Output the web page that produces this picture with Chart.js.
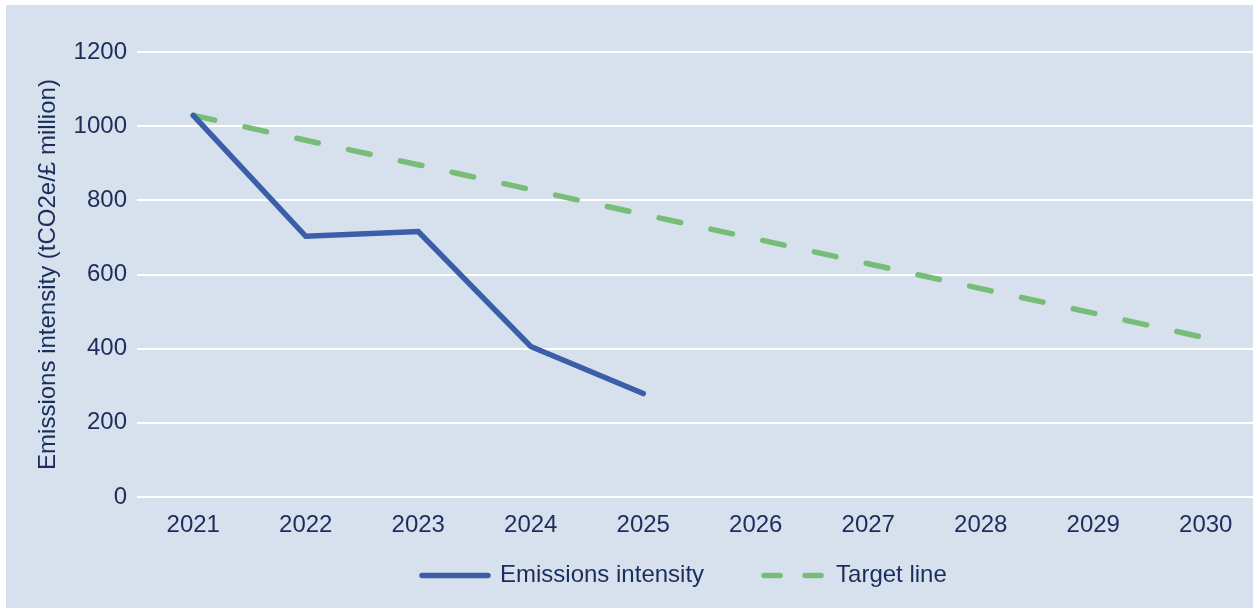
<!DOCTYPE html>
<html>
<head>
<meta charset="utf-8">
<script src="https://cdn.jsdelivr.net/npm/chart.js@4"></script>
<style>
  html, body { margin: 0; padding: 0; background: #ffffff; overflow: hidden; width: 1253px; height: 608px; }
  #wrap { position: absolute; left: 0; top: 0; width: 1262px; height: 608px; }
</style>
</head>
<body>
<div id="wrap"><canvas id="c" width="1262" height="608"></canvas></div>
<script>
const years = ['2021', '2022', '2023', '2024', '2025', '2026', '2027', '2028', '2029', '2030'];
const emissionsIntensity = [1029, 703, 716, 406, 279, null, null, null, null, null];
const targetLine = [1029, 962, 896, 829, 762, 696, 629, 562, 496, 429];
const yTicks = [0, 200, 400, 600, 800, 1000, 1200];
const seriesNames = ['Emissions intensity', 'Target line'];
const yTitle = 'Emissions intensity (tCO2e/£ million)';

const TEXT = '#1b2d5c';
const BLUE = '#3b5ea8';
const GREEN = '#77bd77';
const BG = '#d7e0ed';

Chart.defaults.font.family = '"Liberation Sans", Arial, Helvetica, sans-serif';

const bgPlugin = {
  id: 'bg',
  beforeDraw(chart) {
    const ctx = chart.ctx;
    ctx.save();
    ctx.fillStyle = BG;
    ctx.fillRect(6, 5, chart.width - 6, chart.height - 5);
    ctx.restore();
  }
};

// place the legend row: first mark starts at x=422, text centred near y=575
const legendPlace = {
  id: 'legendPlace',
  afterLayout(chart) {
    const lg = chart.legend;
    if (!lg || !lg.lineWidths) return;
    const pad = lg.options.labels.padding;
    const startX = (lg.left + pad + lg.right - lg.lineWidths[0]) / 2;
    const dx = 422 - startX;
    lg.left += dx; lg.right += dx;
    const ih = lg._itemHeight || 29;
    lg.top = 578 - pad - ih / 2;
    lg.bottom = lg.top + pad + ih + 20;
  }
};

new Chart(document.getElementById('c'), {
  type: 'line',
  data: {
    labels: years,
    datasets: [
      {
        label: seriesNames[0],
        data: emissionsIntensity,
        borderColor: BLUE,
        backgroundColor: BLUE,
        borderWidth: 5.5,
        borderCapStyle: 'round',
        borderJoinStyle: 'miter',
        pointRadius: 0,
        tension: 0,
        spanGaps: false,
        fill: false
      },
      {
        label: seriesNames[1],
        data: targetLine,
        borderColor: GREEN,
        backgroundColor: GREEN,
        borderWidth: 5.5,
        borderDash: [22, 31],
        borderCapStyle: 'round',
        pointRadius: 0,
        tension: 0,
        fill: false
      }
    ]
  },
  options: {
    responsive: false,
    animation: false,
    devicePixelRatio: 1,
    layout: { padding: { top: 52, right: 0, bottom: 16, left: 0 } },
    scales: {
      x: {
        offset: true,
        grid: { display: false, drawTicks: false },
        border: { display: false },
        ticks: { color: TEXT, font: { size: 24 }, padding: 14, maxRotation: 0, autoSkip: false },
        afterFit(s) { s.height = 55; }
      },
      y: {
        min: 0,
        max: 1200,
        afterBuildTicks(s) { s.ticks = yTicks.map(v => ({ value: v })); },
        grid: { color: '#ffffff', lineWidth: 2, drawTicks: false },
        border: { display: false },
        ticks: { color: TEXT, font: { size: 24 }, padding: 10, callback: v => String(v) },
        title: {
          display: true,
          text: yTitle,
          color: TEXT,
          font: { size: 24 },
          padding: { top: 33.6, bottom: 0 }
        },
        afterFit(s) { s.width = 137; }
      }
    },
    plugins: {
      tooltip: { enabled: false },
      legend: {
        position: 'bottom',
        maxHeight: 40,
        labels: {
          usePointStyle: true,
          pointStyle: 'line',
          pointStyleWidth: 66,
          color: TEXT,
          font: { size: 24 },
          padding: 54,
          generateLabels(chart) {
            return chart.data.datasets.map((ds, i) => ({
              text: ds.label,
              fillStyle: ds.borderColor,
              strokeStyle: ds.borderColor,
              fontColor: TEXT,
              lineWidth: 5.5,
              lineCap: 'round',
              lineDash: i === 1 ? [16, 25, 16, 150] : [],
              lineDashOffset: i === 1 ? 201 : 0,
              pointStyle: 'line',
              hidden: false,
              datasetIndex: i
            }));
          }
        }
      }
    }
  },
  plugins: [bgPlugin, legendPlace]
});
</script>
</body>
</html>
